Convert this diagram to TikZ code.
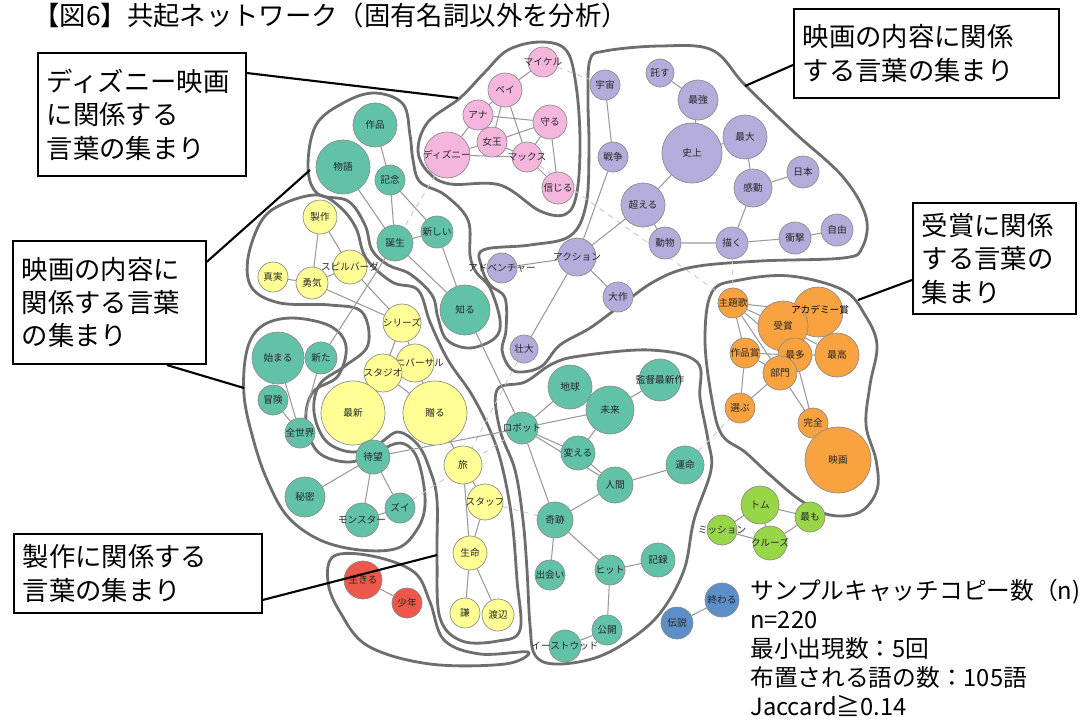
\documentclass[tikz,border=0pt]{standalone}
\usepackage{fontspec}
\setmainfont{Noto Sans CJK JP}
\usetikzlibrary{backgrounds}

\definecolor{pinkc}{RGB}{245,182,222}
\definecolor{purplec}{RGB}{180,172,218}
\definecolor{tealc}{RGB}{98,194,168}
\definecolor{yellowc}{RGB}{255,255,150}
\definecolor{orangec}{RGB}{248,162,64}
\definecolor{redc}{RGB}{238,88,76}
\definecolor{greenc}{RGB}{152,214,72}
\definecolor{bluec}{RGB}{92,142,200}
\definecolor{blobc}{RGB}{110,110,110}

\begin{document}
\begin{tikzpicture}[
  x=0.02cm, y=-0.02cm,
  every label/.style = {font=\fontsize{5.5}{6}\selectfont, text=black!85, inner sep=0pt},
  word/.style = {circle, draw=black!45, line width=0.4pt, inner sep=0pt},
  sz/.style = {minimum size=#1*0.04cm},
  pk/.style = {word, fill=pinkc},
  pu/.style = {word, fill=purplec},
  te/.style = {word, fill=tealc},
  ye/.style = {word, fill=yellowc},
  og/.style = {word, fill=orangec},
  rd/.style = {word, fill=redc},
  gn/.style = {word, fill=greenc},
  bl/.style = {word, fill=bluec},
  link/.style = {draw=black!40, line width=0.6pt},
  weak/.style = {draw=black!22, dashed, line width=0.5pt},
  blob/.style = {draw=blobc, line width=1.6pt},
  callout/.style = {draw, line width=1.2pt, fill=white, anchor=north west, align=left, inner xsep=5pt, font=\fontsize{15}{19}\selectfont},
  pointer/.style = {line width=1.2pt}
  ]
  \useasboundingbox (0,0) rectangle (1092,724);

  \node[anchor=west, inner sep=0pt, font=\fontsize{15}{17}\selectfont] (title) at (33,15) {【図6】共起ネットワーク（固有名詞以外を分析）};

  % pink
  \node[pk,sz=15,label={center:マイケル}] (maikeru) at (543,62) {};
  \node[pk,sz=17,label={center:ペイ}] (pei) at (505,90) {};
  \node[pk,sz=15,label={center:アナ}] (ana) at (478,115) {};
  \node[pk,sz=17,label={center:守る}] (mamoru) at (550,122) {};
  \node[pk,sz=15,label={center:女王}] (joou) at (492,142) {};
  \node[pk,sz=23,label={center:ディズニー}] (disney) at (447,155) {};
  \node[pk,sz=15,label={center:マックス}] (makkusu) at (527,157) {};
  \node[pk,sz=16,label={center:信じる}] (shinjiru) at (558,188) {};

  % purple
  \node[pu,sz=14,label={center:託す}] (takusu) at (660,73) {};
  \node[pu,sz=15,label={center:宇宙}] (uchuu) at (605,85) {};
  \node[pu,sz=20,label={center:最強}] (saikyou) at (698,100) {};
  \node[pu,sz=30,label={center:史上}] (shijou) at (692,153) {};
  \node[pu,sz=22,label={center:最大}] (saidai) at (745,137) {};
  \node[pu,sz=16,label={center:日本}] (nihon) at (803,172) {};
  \node[pu,sz=15,label={center:戦争}] (sensou) at (613,157) {};
  \node[pu,sz=22,label={center:超える}] (koeru) at (643,205) {};
  \node[pu,sz=19,label={center:感動}] (kandou) at (753,188) {};
  \node[pu,sz=16,label={center:動物}] (doubutsu) at (665,243) {};
  \node[pu,sz=16,label={center:描く}] (egaku) at (732,243) {};
  \node[pu,sz=16,label={center:衝撃}] (shougeki) at (795,238) {};
  \node[pu,sz=16,label={center:自由}] (jiyuu) at (837,230) {};
  \node[pu,sz=19,label={center:アクション}] (action) at (577,257) {};
  \node[pu,sz=15,label={center:アドベンチャー}] (adventure) at (502,268) {};
  \node[pu,sz=15,label={center:大作}] (taisaku) at (618,297) {};
  \node[pu,sz=14,label={center:壮大}] (soudai) at (524,349) {};

  % teal, upper
  \node[te,sz=22,label={center:作品}] (sakuhin) at (375,125) {};
  \node[te,sz=27,label={center:物語}] (monogatari) at (343,167) {};
  \node[te,sz=15,label={center:記念}] (kinen) at (390,180) {};
  \node[te,sz=18,label={center:誕生}] (tanjou) at (395,243) {};
  \node[te,sz=16,label={center:新しい}] (atarashii) at (437,232) {};
  \node[te,sz=25,label={center:知る}] (shiru) at (465,310) {};

  % teal, left
  \node[te,sz=26,label={center:始まる}] (hajimaru) at (278,358) {};
  \node[te,sz=16,label={center:新た}] (arata) at (321,358) {};
  \node[te,sz=15,label={center:冒険}] (bouken) at (273,400) {};
  \node[te,sz=15,label={center:全世界}] (zensekai) at (300,433) {};
  \node[te,sz=20,label={center:秘密}] (himitsu) at (305,497) {};
  \node[te,sz=15,label={center:ズイ}] (zui) at (400,508) {};
  \node[te,sz=17,label={center:モンスター}] (monster) at (362,520) {};

  % yellow
  \node[ye,sz=17,label={center:製作}] (seisaku) at (320,217) {};
  \node[ye,sz=15,label={center:真実}] (shinjitsu) at (273,277) {};
  \node[ye,sz=16,label={center:勇気}] (yuuki) at (312,283) {};
  \node[ye,sz=17,label={center:スピルバーグ}] (spielberg) at (350,267) {};
  \node[ye,sz=19,label={center:シリーズ}] (series) at (402,323) {};
  \node[ye,sz=19,label={center:ユニバーサル}] (universal) at (415,363) {};
  \node[ye,sz=19,label={center:スタジオ}] (studio) at (383,373) {};
  \node[ye,sz=32,label={center:最新}] (saishin) at (353,413) {};
  \node[ye,sz=32,label={center:贈る}] (okuru) at (435,413) {};
  \node[te,sz=17,label={center:待望}] (taibou) at (373,457) {};
  \node[ye,sz=19,label={center:旅}] (tabi) at (463,465) {};
  \node[ye,sz=18,label={center:スタッフ}] (staff) at (485,502) {};
  \node[ye,sz=17,label={center:生命}] (seimei) at (470,553) {};
  \node[ye,sz=15,label={center:謙}] (ken) at (465,613) {};
  \node[ye,sz=16,label={center:渡辺}] (watanabe) at (498,615) {};

  % red
  \node[rd,sz=19,label={center:生きる}] (ikiru) at (363,580) {};
  \node[rd,sz=15,label={center:少年}] (shounen) at (407,603) {};

  % teal, robot
  \node[te,sz=22,label={center:地球}] (chikyuu) at (570,387) {};
  \node[te,sz=21,label={center:監督最新作}] (kantoku) at (660,380) {};
  \node[te,sz=24,label={center:未来}] (mirai) at (610,410) {};
  \node[te,sz=16,label={center:ロボット}] (robot) at (522,428) {};
  \node[te,sz=17,label={center:変える}] (kaeru) at (578,453) {};
  \node[te,sz=19,label={center:運命}] (unmei) at (685,465) {};
  \node[te,sz=18,label={center:人間}] (ningen) at (615,485) {};
  \node[te,sz=18,label={center:奇跡}] (kiseki) at (555,520) {};
  \node[te,sz=15,label={center:出会い}] (deai) at (550,575) {};
  \node[te,sz=15,label={center:ヒット}] (hit) at (610,570) {};
  \node[te,sz=17,label={center:記録}] (kiroku) at (658,560) {};
  \node[te,sz=15,label={center:公開}] (koukai) at (607,630) {};
  \node[te,sz=16,label={center:イーストウッド}] (eastwood) at (565,646) {};

  % orange
  \node[og,sz=15,label={center:主題歌}] (shudaika) at (733,303) {};
  \node[og,sz=25] (academy) at (818,312) {};
  \node[og,sz=25,label={center:受賞}] (jushou) at (783,326) {};
  \node[og,sz=15,label={center:作品賞}] (sakuhinshou) at (745,353) {};
  \node[og,sz=17,label={center:最多}] (saita) at (795,355) {};
  \node[og,sz=22,label={center:最高}] (saikou) at (837,355) {};
  \node[og,sz=17,label={center:部門}] (bumon) at (780,373) {};
  \node[og,sz=15,label={center:選ぶ}] (erabu) at (740,408) {};
  \node[og,sz=15,label={center:完全}] (kanzen) at (813,423) {};
  \node[og,sz=33,label={center:映画}] (eiga) at (838,460) {};
  \node[font=\fontsize{5.5}{6}\selectfont, inner sep=0pt] (academylabel) at (820,310) {アカデミー賞};

  % green, blue
  \node[gn,sz=19,label={center:トム}] (tom) at (760,505) {};
  \node[gn,sz=15,label={center:最も}] (mottomo) at (810,517) {};
  \node[gn,sz=15,label={center:ミッション}] (mission) at (722,530) {};
  \node[gn,sz=17,label={center:クルーズ}] (cruise) at (770,543) {};
  \node[bl,sz=16,label={center:伝説}] (densetsu) at (677,623) {};
  \node[bl,sz=17,label={center:終わる}] (owaru) at (722,600) {};

  \begin{scope}[on background layer]
  \draw[blob] plot[smooth cycle, tension=0.6] coordinates {(540,42) (566,50) (576,85) (580,140) (577,192) (566,214) (540,211) (500,185) (450,184) (428,172) (418,150) (428,122) (460,98) (485,72) (508,50)};
  \draw[blob] plot[smooth cycle, tension=0.6] coordinates {(590,60) (605,51) (660,46) (712,50) (745,85) (795,133) (843,177) (866,217) (862,248) (843,258) (760,261) (693,267) (655,281) (620,306) (590,328) (560,345) (542,366) (522,372) (510,368) (502,350) (506,330) (505,298) (490,285) (482,268) (483,250) (530,245) (570,236) (586,205) (589,150) (588,100)};
  \draw[blob] plot[smooth cycle, tension=0.6] coordinates {(308,168) (316,125) (345,102) (375,93) (403,104) (410,135) (413,160) (420,182) (445,195) (468,220) (470,255) (476,272) (490,288) (500,320) (495,338) (470,348) (447,340) (438,318) (432,295) (410,274) (388,265) (372,250) (365,225) (348,201) (318,194)};
  \draw[blob] plot[smooth cycle, tension=0.6] coordinates {(262,220) (285,203) (318,195) (340,207) (356,228) (366,258) (392,282) (418,290) (430,322) (448,360) (472,395) (492,435) (503,470) (512,520) (517,580) (520,630) (498,641) (462,641) (440,618) (437,560) (437,500) (430,470) (418,445) (398,432) (378,444) (352,452) (326,441) (314,412) (320,384) (345,366) (368,345) (362,312) (330,305) (280,303) (252,288) (248,258)};
  \draw[blob] plot[smooth cycle, tension=0.6] coordinates {(247,350) (262,326) (292,318) (330,326) (346,346) (338,376) (313,392) (306,420) (318,452) (350,462) (380,450) (400,443) (414,452) (422,475) (425,505) (418,528) (398,548) (360,550) (320,540) (288,517) (268,482) (254,442) (244,395)};
  \draw[blob] plot[smooth cycle, tension=0.6] coordinates {(334,556) (372,556) (414,572) (430,602) (444,640) (480,654) (528,652) (505,664) (430,664) (368,646) (340,612) (328,582)};
  \draw[blob] plot[smooth cycle, tension=0.6] coordinates {(497,390) (525,382) (552,364) (580,356) (650,350) (697,362) (700,398) (708,440) (711,470) (694,520) (684,570) (661,612) (631,639) (595,658) (555,664) (535,655) (530,625) (527,570) (523,520) (515,470) (500,430)};
  \draw[blob] plot[smooth cycle, tension=0.6] coordinates {(712,292) (740,280) (790,276) (843,290) (865,315) (877,345) (870,385) (866,425) (876,460) (877,490) (860,512) (830,515) (800,500) (770,475) (745,452) (722,435) (712,400) (705,340)};

  \draw[weak] (maikeru) -- (uchuu) (makkusu) -- (shudaika) (egaku) -- (shudaika)
    (disney) -- (tanjou) (soudai) -- (tabi) (zui) -- (robot)
    (staff) -- (kiseki) (unmei) -- (erabu);

  \draw[link] (maikeru) -- (pei) (pei) -- (ana) (pei) -- (joou) (pei) -- (makkusu)
    (ana) -- (mamoru) (ana) -- (joou) (ana) -- (disney) (joou) -- (mamoru)
    (joou) -- (makkusu) (disney) -- (joou) (disney) -- (makkusu)
    (mamoru) -- (makkusu) (mamoru) -- (shinjiru) (makkusu) -- (shinjiru);
  \draw[link] (takusu) -- (saikyou) (saikyou) -- (shijou) (shijou) -- (saidai)
    (shijou) -- (koeru) (saidai) -- (kandou) (kandou) -- (nihon) (kandou) -- (egaku)
    (egaku) -- (doubutsu) (egaku) -- (shougeki) (shougeki) -- (jiyuu)
    (uchuu) -- (sensou) (sensou) -- (action) (action) -- (koeru) (koeru) -- (doubutsu)
    (action) -- (adventure) (action) -- (taisaku) (action) -- (soudai);
  \draw[link] (sakuhin) -- (kinen) (monogatari) -- (tanjou) (kinen) -- (tanjou)
    (kinen) -- (atarashii) (tanjou) -- (atarashii) (tanjou) -- (shiru)
    (atarashii) -- (shiru) (shiru) -- (robot) (tanjou) -- (arata);
  \draw[link] (hajimaru) -- (arata) (hajimaru) -- (zensekai) (arata) -- (zensekai)
    (bouken) -- (zensekai) (taibou) -- (himitsu) (taibou) -- (monster)
    (taibou) -- (zui) (monster) -- (zui) (taibou) -- (robot);
  \draw[link] (seisaku) -- (yuuki) (seisaku) -- (spielberg) (shinjitsu) -- (yuuki)
    (yuuki) -- (spielberg) (yuuki) -- (series) (spielberg) -- (series)
    (series) -- (studio) (series) -- (universal) (universal) -- (studio)
    (studio) -- (saishin) (studio) -- (okuru) (universal) -- (okuru)
    (okuru) -- (tabi) (tabi) -- (staff) (tabi) -- (seimei) (staff) -- (seimei)
    (seimei) -- (ken) (seimei) -- (watanabe) (ikiru) -- (shounen);
  \draw[link] (robot) -- (chikyuu) (robot) -- (mirai) (robot) -- (kaeru)
    (robot) -- (ningen) (robot) -- (kiseki) (mirai) -- (kantoku) (mirai) -- (kaeru)
    (kaeru) -- (ningen) (ningen) -- (unmei) (ningen) -- (kiseki) (kiseki) -- (deai)
    (kiseki) -- (hit) (hit) -- (kiroku) (hit) -- (koukai) (koukai) -- (eastwood);
  \draw[link] (shudaika) -- (jushou) (shudaika) -- (academy) (shudaika) -- (saita)
    (shudaika) -- (bumon) (shudaika) -- (sakuhinshou) (jushou) -- (academy)
    (jushou) -- (saita) (jushou) -- (saikou) (academy) -- (saikou) (saita) -- (saikou)
    (saita) -- (bumon) (saita) -- (sakuhinshou) (sakuhinshou) -- (bumon)
    (sakuhinshou) -- (erabu) (bumon) -- (erabu) (bumon) -- (kanzen)
    (saita) -- (kanzen) (kanzen) -- (eiga);
  \draw[link] (tom) -- (mottomo) (tom) -- (mission) (mission) -- (cruise)
    (cruise) -- (mottomo) (tom) -- (cruise) (densetsu) -- (owaru);
  \end{scope}

  % callouts
  \node[callout, text width=3.8cm, minimum height=2.46cm] (boxA) at (37,52) {ディズニー映画\\に関係する\\言葉の集まり};
  \node[callout, text width=4.95cm, minimum height=1.78cm] (boxB) at (793,8) {映画の内容に関係\\する言葉の集まり};
  \node[callout, text width=2.9cm, minimum height=2.22cm] (boxC) at (912,202) {受賞に関係\\する言葉の\\集まり};
  \node[callout, text width=3.5cm, minimum height=2.46cm] (boxD) at (12,240) {映画の内容に\\関係する言葉\\の集まり};
  \node[callout, text width=4.6cm, minimum height=1.58cm] (boxE) at (13,533) {製作に関係する\\言葉の集まり};

  \coordinate (pA) at (458,98);
  \coordinate (pB) at (745,86);
  \coordinate (pC) at (858,300);
  \coordinate (pD1) at (310,170);
  \coordinate (pD2) at (244,388);
  \coordinate (pE) at (437,555);

  \draw[pointer] ([yshift=-0.42cm]boxA.north east) -- (pA);
  \draw[pointer] ([yshift=-1.14cm]boxB.north west) -- (pB);
  \draw[pointer] ([yshift=-1.56cm]boxC.north west) -- (pC);
  \draw[pointer] ([yshift=-0.44cm]boxD.north east) -- (pD1);
  \draw[pointer] ([xshift=3.1cm]boxD.south west) -- (pD2);
  \draw[pointer] ([yshift=-1.34cm]boxE.north east) -- (pE);

  \node[anchor=north west, inner sep=0pt, align=left, font=\fontsize{13.5}{16.5}\selectfont] (legend) at (750,579)
    {サンプルキャッチコピー数（n)\\n=220\\最小出現数：5回\\布置される語の数：105語\\Jaccard≧0.14};

\end{tikzpicture}
\end{document}
